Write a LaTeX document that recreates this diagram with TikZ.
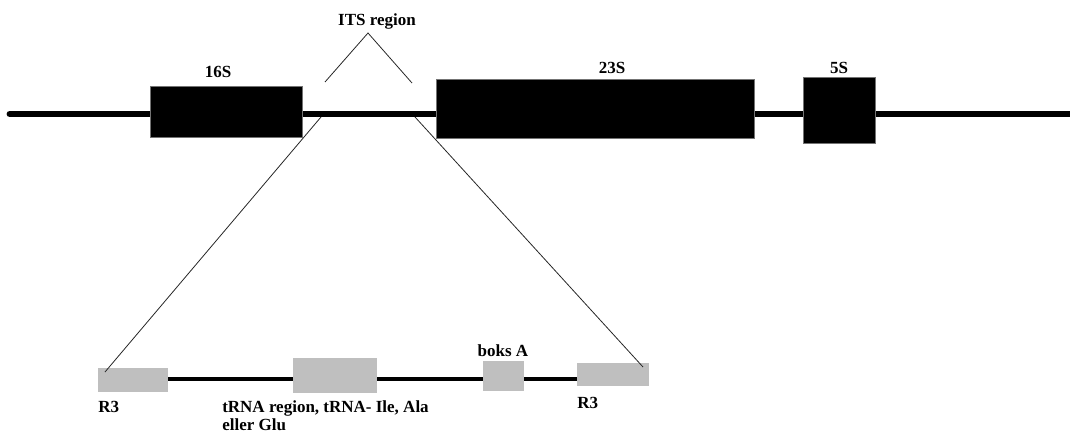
\documentclass[tikz,border=0pt]{standalone}
\usepackage{fontspec}
\setmainfont{Liberation Serif}
\usetikzlibrary{fit}
\begin{document}
\begin{tikzpicture}[x=0.75pt,y=-0.75pt,
  blk/.style={fill=black,draw=black!55,line width=0.4pt,inner sep=0pt},
  gbox/.style={fill=black!25,draw=none,inner sep=0pt},
  lbl/.style={inner sep=0pt,font=\fontsize{12.75}{13.5}\selectfont\bfseries},
  dna/.style={line width=5.2pt,black},
  sub/.style={line width=3pt,black},
  thin/.style={line width=0.6pt,black!85}]
\useasboundingbox (0,0) rectangle (1070,432);
% coordinates
\coordinate (mainL) at (10,114);
\coordinate (mainR) at (1072,114);
\coordinate (itsL) at (325,82);
\coordinate (itsTop) at (368,33);
\coordinate (itsR) at (412,83);
\coordinate (expL) at (321,117);
\coordinate (expR) at (415,117);
\coordinate (subL) at (168,379);
\coordinate (subR) at (578,379);
% bottom line and grey boxes
\draw[sub] (subL) -- (subR);
\node[gbox,fit={(98,368) (168,392)}] (r3a) {};
\node[gbox,fit={(293,358) (377,393)}] (trna) {};
\node[gbox,fit={(483,361) (524,391)}] (boksA) {};
\node[gbox,fit={(577,363) (649,386)}] (r3b) {};
\coordinate (endL) at (105,372);
\coordinate (endR) at (643,367);
% expansion lines
\draw[thin] (expL) -- (endL);
\draw[thin] (expR) -- (endR);
% main line
\draw[dna,line cap=round] (mainL) -- (mainR);
% black boxes
\node[blk,fit={(150,86) (302,137)}] (s16) {};
\node[blk,fit={(436,79) (754,138)}] (s23) {};
\node[blk,fit={(803,77) (875,143)}] (s5) {};
% ITS triangle
\draw[thin] (itsL) -- (itsTop) -- (itsR);
% labels
\node[lbl,anchor=base] (t16) at (218,77) {16S};
\node[lbl,anchor=base] (tits) at (377,26) {ITS region};
\node[lbl,anchor=base] (t23) at (612,73) {23S};
\node[lbl,anchor=base] (t5) at (839,73) {5S};
\node[lbl,anchor=base west] (tr3a) at (98,412) {R3};
\node[lbl,anchor=north west,align=left] (ttrna) at (222,400) {tRNA region, tRNA- Ile, Ala\\eller Glu};
\node[lbl,anchor=base] (tboks) at (503,356) {boks A};
\node[lbl,anchor=base west] (tr3b) at (577,408) {R3};
\end{tikzpicture}
\end{document}
